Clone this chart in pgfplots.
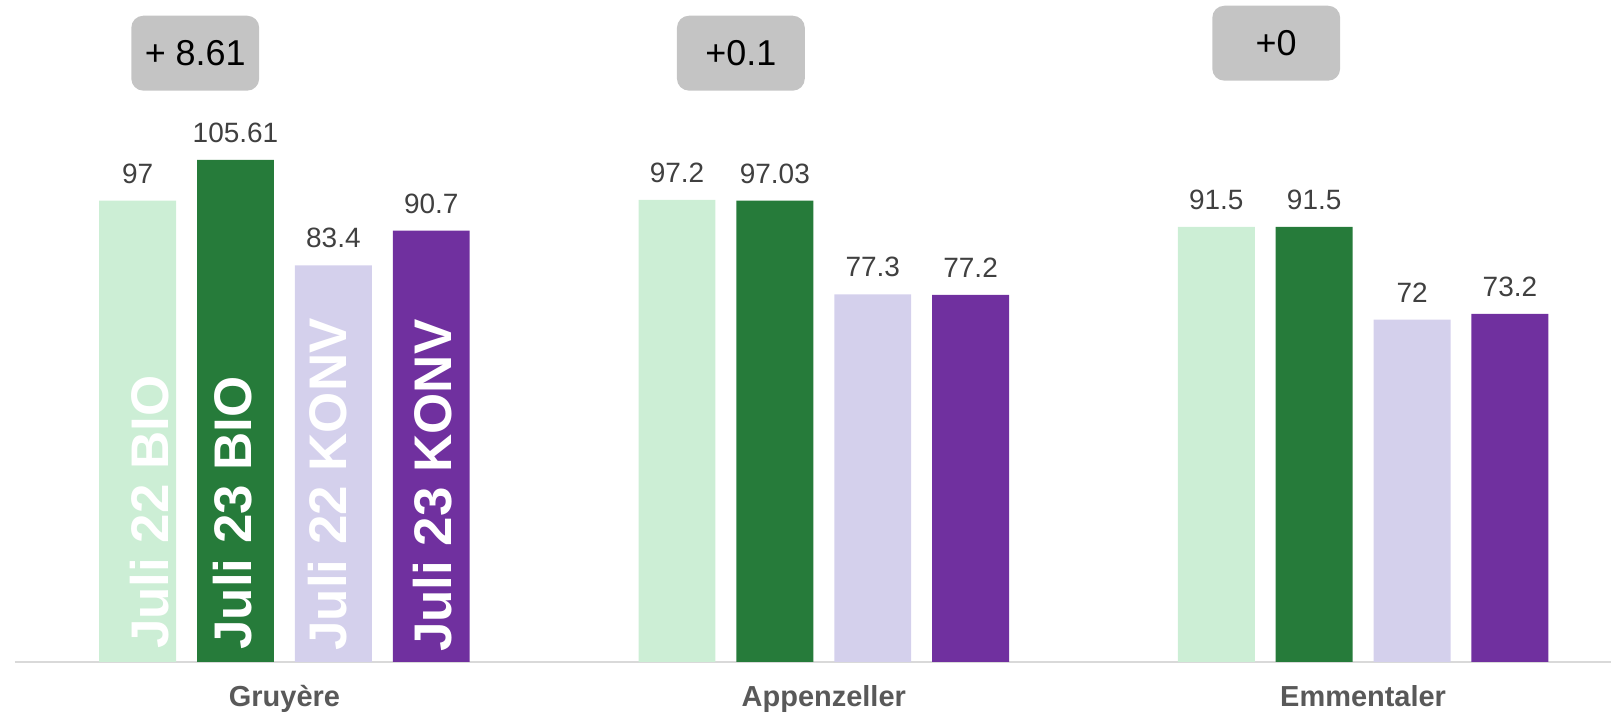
\documentclass[border=0pt]{standalone}
\usepackage{fontspec}
\setmainfont{Liberation Sans}
\usepackage{pgfplots}
\pgfplotsset{compat=1.18}
\definecolor{lgreen}{HTML}{CCEED5}
\definecolor{dgreen}{HTML}{267B3A}
\definecolor{lpurple}{HTML}{D4D0EC}
\definecolor{dpurple}{HTML}{70309F}
\definecolor{axisgray}{HTML}{D9D9D9}
\definecolor{labelgray}{HTML}{595959}
\definecolor{valgray}{HTML}{404040}
\definecolor{boxgray}{HTML}{C4C4C4}
\begin{document}
\begin{tikzpicture}
\begin{axis}[
  width=1612pt, height=716pt, scale only axis,
  xmin=-0.52556, xmax=2.45963, ymin=-11.20, ymax=139.22,
  axis y line=none, axis x line*=middle,
  hide obscured x ticks=false,
  x axis line style={draw=axisgray, line width=2pt, shorten <=14pt},
  xtick={0,1,2}, xticklabels={Gruyère, Appenzeller, Emmentaler},
  major tick length=0pt,
  xticklabel style={font=\fontsize{29}{34}\selectfont\bfseries, text=labelgray, anchor=base, yshift=-44.6pt, inner sep=0pt},
  ybar=21pt, bar width=77pt,
  nodes near coords, point meta=explicit symbolic,
  every node near coord/.append style={font=\fontsize{28}{33}\selectfont, text=valgray, anchor=base, yshift=17.5pt, inner sep=0pt},
  clip=false,
]
\addplot[fill=lgreen, draw=none] coordinates {(0,97) [97] (1,97.2) [97.2] (2,91.5) [91.5]};
\addplot[fill=dgreen, draw=none] coordinates {(0,105.61) [105.61] (1,97.03) [97.03] (2,91.5) [91.5]};
\addplot[fill=lpurple, draw=none] coordinates {(0,83.4) [83.4] (1,77.3) [77.3] (2,72) [72]};
\addplot[fill=dpurple, draw=none] coordinates {(0,90.7) [90.7] (1,77.2) [77.2] (2,73.2) [73.2]};

\path (rel axis cs:0,0) rectangle (rel axis cs:1,1);

\tikzset{boxnode/.style={fill=boxgray, rounded corners=12pt, minimum width=128pt, minimum height=75pt, inner sep=0pt, font=\fontsize{36}{40}\selectfont, text=black}}
\node[boxnode] at (axis cs:-0.1654,128.03) {+ 8.61};
\node[boxnode] at (axis cs:0.8463,128.03) {+0.1};
\node[boxnode] at (axis cs:1.8389,130.13) {+0};

\tikzset{barlab/.style={rotate=90, anchor=base west, inner sep=0pt, text=white, font=\fontsize{53}{60}\selectfont\bfseries}}
\node[barlab] at (axis cs:-0.2157,2.67) {Juli 22 BIO};
\node[barlab] at (axis cs:-0.0613,2.52) {Juli 23 BIO};
\node[barlab] at (axis cs:0.1146,2.31) {Juli 22 KONV};
\node[barlab] at (axis cs:0.3096,2.04) {Juli 23 KONV};
\end{axis}
\end{tikzpicture}
\end{document}
